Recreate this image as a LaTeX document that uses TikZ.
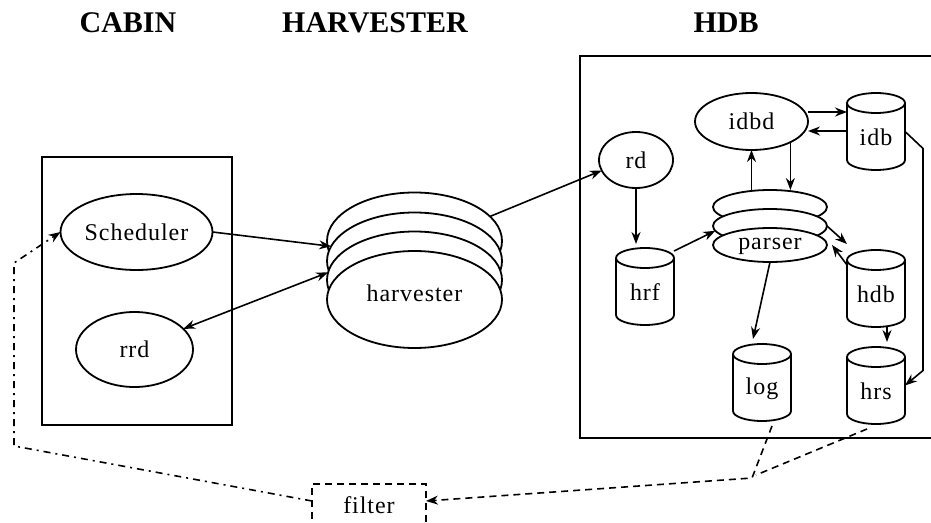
\documentclass[tikz,border=0pt]{standalone}
\usepackage{fontspec}
\setmainfont{Liberation Serif}
\newfontfamily\labelfont{Liberation Serif}[LetterSpace=4]
\usetikzlibrary{shapes.geometric,arrows.meta}

% database cylinder: name, centre x, centre y, label
\newcommand\dbcyl[4]{%
  \node[dbnode] (#1) at (#2,#3) {};
  \draw[shapeline] ([yshift=-10pt]#1.north) ellipse [x radius=29pt, y radius=10pt];
  \draw[shapeline] ([yshift=-10pt]#1.north west) -- ([yshift=10pt]#1.south west)
     arc[start angle=180, end angle=360, x radius=29pt, y radius=10pt]
     -- ([yshift=-10pt]#1.north east);
  \node[txt] (#1-label) at ([yshift=-6pt]#1.center) {#4};
}

\begin{document}
\begin{tikzpicture}[x=1pt,y=-1pt,
  every node/.style={inner sep=0pt, outer sep=0pt},
  shapeline/.style={line width=1.8pt},
  txt/.style={font=\labelfont\fontsize{24}{28}\selectfont},
  title/.style={font=\fontsize{30}{34}\selectfont\bfseries},
  oval/.style={ellipse, draw, line width=1.8pt, fill=white},
  frame/.style={rectangle, draw, line width=2.2pt},
  dbnode/.style={rectangle, minimum width=58pt, minimum height=77pt},
  tip/.tip={Stealth[length=12pt,width=9pt]},
  arr/.style={line width=1.6pt, -tip},
  darr/.style={line width=1.6pt, tip-tip},
  dashline/.style={line width=1.6pt, dash pattern=on 7pt off 5pt},
  dashdotline/.style={line width=1.6pt, dash pattern=on 7pt off 5pt on 2pt off 5pt},
]
\clip (0,0) rectangle (931,522);

% section titles
\node[title] (tcabin) at (128,23) {CABIN};
\node[title] (tharv)  at (375,23) {HARVESTER};
\node[title] (thdb)   at (726,23) {HDB};

% CABIN
\node[frame, minimum width=190pt, minimum height=268pt] (cabin) at (137,291) {};
\node[oval, minimum width=152pt, minimum height=76pt] (sched) at (136.5,232) {};
\node[txt] (schedtext) at (136.5,232) {Scheduler};
\node[oval, minimum width=117pt, minimum height=75pt] (rrd) at (134.5,349.5) {};
\node[txt] (rrdtext) at (134.5,349.5) {rrd};

% HARVESTER: stack of ellipses, back to front
\node[oval, minimum width=175pt, minimum height=97pt] (h1) at (414.5,241) {};
\node[oval, minimum width=175pt, minimum height=97pt] (h2) at (414.5,261) {};
\node[oval, minimum width=175pt, minimum height=97pt] (h3) at (414.5,280) {};
\node[oval, minimum width=175pt, minimum height=97pt] (h4) at (414.5,299.5) {};
\node[txt] (harvtext) at (414.5,293) {harvester};

% HDB
\node[frame, minimum width=380pt, minimum height=382pt] (hdbbox) at (770,247) {};
\node[oval, minimum width=74pt, minimum height=56pt] (rd) at (636,160) {};
\node[txt] (rdtext) at (636,160) {rd};
\node[oval, minimum width=113pt, minimum height=57pt] (idbd) at (751.5,121.5) {};
\node[txt] (idbdtext) at (751.5,121.5) {idbd};
\node[oval, minimum width=114pt, minimum height=34pt] (p1) at (770,207) {};
\node[oval, minimum width=114pt, minimum height=34pt] (p2) at (770,226) {};
\node[oval, minimum width=114pt, minimum height=34pt] (p3) at (770,245) {};
\node[txt] (ptext) at (770,246) {parser};
\dbcyl{idb}{876}{131.5}{idb}
\dbcyl{hrf}{645}{286.5}{hrf}
\dbcyl{hdb}{876}{288.5}{hdb}
\dbcyl{log}{762}{382.5}{log}
\dbcyl{hrs}{876}{385.5}{hrs}

% filter
\node[rectangle, draw, dashline, minimum width=114pt, minimum height=44pt] (filter) at (369,506) {};
\node[txt] (filtertext) at (369,505) {filter};

% connectors
\draw[arr] (sched.east) -- (h2.170);
\draw[darr] (rrd.23) -- (h3.175);
\draw[arr] (h1.18) -- (rd.197);
\draw[arr] (rd.south) -- ([yshift=4pt]rd.south |- hrf.north);
\draw[arr] ([yshift=-3pt]hrf.north east) -- (p2.185);
\draw[arr] (idbd.south |- p1.north) -- (idbd.south);
\draw[arr] (idbd.-28.5) -- (idbd.-28.5 |- p1.north);
\draw[arr] ([yshift=9.5pt]idbd.east) -- ([yshift=9.5pt]idbd.east -| idb.west);
\draw[arr] ([yshift=-9.5pt]idbd.east -| idb.west) -- ([yshift=-9.5pt]idbd.east);
\draw[arr] (idb.east) -- ++(18,17) -- ([xshift=18pt,yshift=15pt]hrs.east) -- (hrs.east);
\draw[arr] (p2.east) -- ([yshift=6pt]hdb.north west);
\draw[arr] ([yshift=-15pt]hdb.north west) -- ([xshift=5pt]p3.east);
\draw[arr] ([xshift=11pt]hdb.south) -- ([xshift=11pt,yshift=5pt]hdb.south |- hrs.north);
\draw[arr] (p3.south) -- ([xshift=-9pt,yshift=5pt]log.north);

\coordinate (join) at ([xshift=-10pt,yshift=-57pt]log.south);
\draw[dashline] ([xshift=-9pt,yshift=-5pt]hrs.south) -- ([xshift=4pt,yshift=3pt]join);
\draw[dashline, -tip] ([xshift=10pt,yshift=-5pt]log.south) -- (join) -- ([yshift=5pt]filter.east);
\draw[dashdotline, -tip] ([yshift=5pt]filter.west) -- ++(-298,-55) -- ++(0,-183) -- (sched.west);
\end{tikzpicture}
\end{document}
